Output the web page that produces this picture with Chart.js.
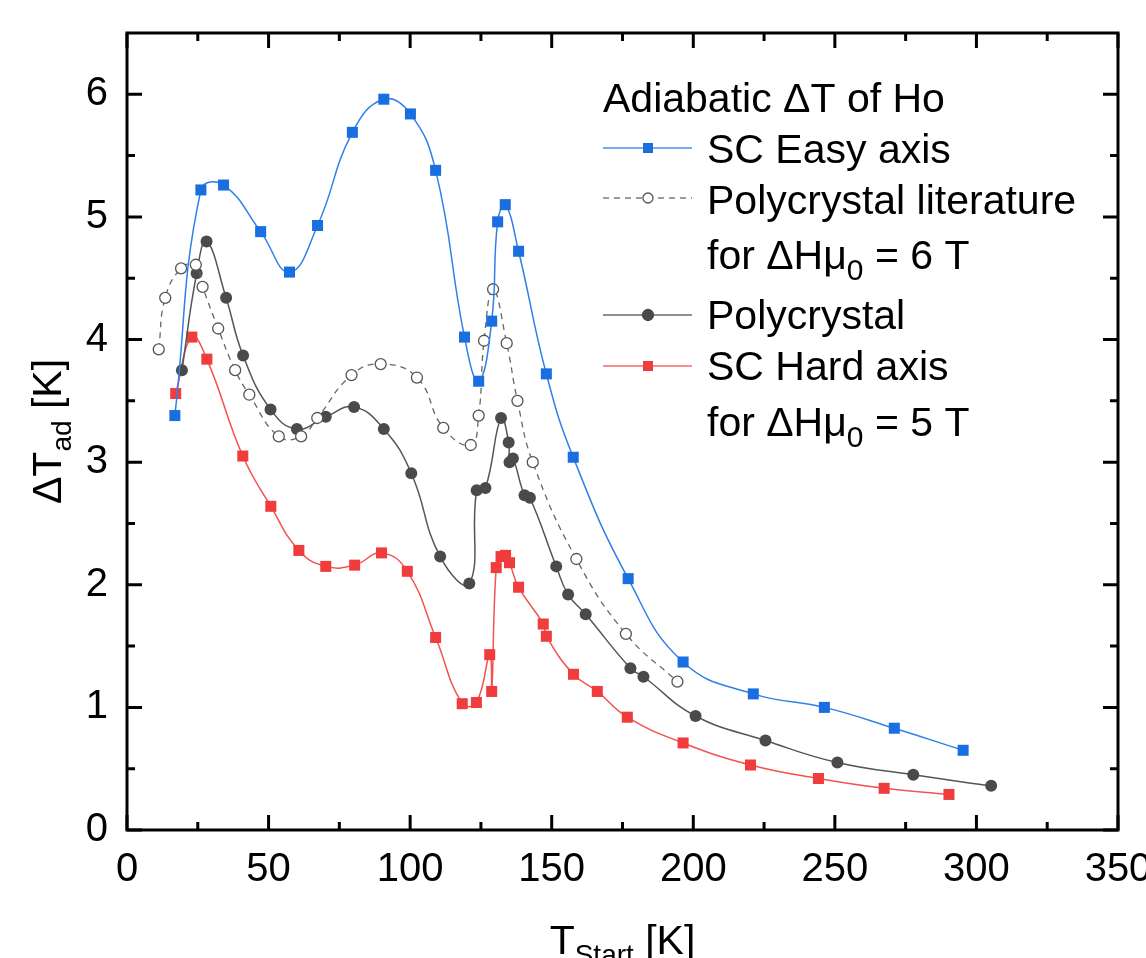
<!DOCTYPE html>
<html>
<head>
<meta charset="utf-8">
<script src="https://cdn.jsdelivr.net/npm/chart.js@4.4.1/dist/chart.umd.min.js"></script>
<style>
  html, body { margin: 0; padding: 0; background: #fff; }
</style>
</head>
<body>
<canvas id="chart" width="1146" height="958"></canvas>
<script>
// values
const tEasy  = [16.9, 26.1, 34.1, 47.2, 57.4, 67.3, 79.6, 90.7, 100.1, 109.0, 119.2, 124.2, 128.8, 130.9, 133.6, 138.3, 148.1, 157.6, 177.0, 196.4, 221.2, 246.3, 271.0, 295.3];
const dtEasy = [3.38, 5.22, 5.26, 4.88, 4.55, 4.93, 5.69, 5.96, 5.84, 5.38, 4.02, 3.66, 4.15, 4.96, 5.10, 4.72, 3.72, 3.04, 2.05, 1.37, 1.11, 1.00, 0.83, 0.65];

const tLit  = [11.2, 13.5, 19.1, 24.3, 26.7, 32.2, 38.2, 43.2, 53.6, 61.5, 67.2, 79.3, 89.6, 102.4, 111.7, 121.4, 124.2, 126.1, 129.3, 134.1, 137.9, 143.3, 158.7, 176.2, 194.4];
const dtLit = [3.92, 4.34, 4.58, 4.61, 4.43, 4.09, 3.75, 3.55, 3.21, 3.21, 3.36, 3.71, 3.80, 3.69, 3.28, 3.14, 3.38, 3.99, 4.41, 3.97, 3.50, 3.00, 2.21, 1.60, 1.21];

const tPoly  = [19.4, 24.6, 28.1, 35.0, 41.0, 50.7, 60.0, 70.2, 80.2, 90.7, 100.4, 110.6, 120.9, 123.5, 126.6, 132.1, 134.8, 135.1, 136.3, 140.4, 142.3, 151.6, 155.8, 162.0, 177.8, 182.4, 200.8, 225.5, 250.9, 277.7, 305.2];
const dtPoly = [3.75, 4.54, 4.80, 4.34, 3.87, 3.43, 3.27, 3.37, 3.45, 3.27, 2.91, 2.23, 2.01, 2.77, 2.79, 3.36, 3.16, 3.00, 3.03, 2.73, 2.71, 2.15, 1.92, 1.76, 1.32, 1.25, 0.93, 0.73, 0.55, 0.45, 0.36];

const tHard  = [17.2, 22.9, 28.2, 40.9, 50.8, 60.7, 70.2, 80.4, 89.9, 99.0, 109.0, 118.4, 123.4, 128.1, 128.8, 130.4, 132.1, 133.7, 135.1, 138.3, 147.0, 148.1, 157.7, 166.1, 176.7, 196.4, 220.2, 244.2, 267.4, 290.3];
const dtHard = [3.56, 4.02, 3.84, 3.05, 2.64, 2.28, 2.15, 2.16, 2.26, 2.11, 1.57, 1.03, 1.04, 1.43, 1.13, 2.14, 2.23, 2.24, 2.18, 1.98, 1.68, 1.58, 1.27, 1.13, 0.92, 0.71, 0.53, 0.42, 0.34, 0.29];

const xTicks = [0, 50, 100, 150, 200, 250, 300, 350];
const xMinor = [25, 75, 125, 175, 225, 275, 325];
const yTicks = [0, 1, 2, 3, 4, 5, 6];
const yMinor = [0.5, 1.5, 2.5, 3.5, 4.5, 5.5];

const FONT = '"Liberation Sans", Arial, sans-serif';
const pts = (xs, ys) => xs.map((x, i) => ({ x: x, y: ys[i] }));

// text with subscripts: segs = [{t, sub}]
function richText(ctx, segs, x, y, size, subSize, subDrop) {
  let w = 0;
  segs.forEach(s => {
    ctx.font = (s.sub ? subSize : size) + 'px ' + FONT;
    s.w = ctx.measureText(s.t).width;
    w += s.w;
  });
  let cx = x;
  if (ctx.textAlign === 'center') cx = x - w / 2;
  const saved = ctx.textAlign;
  ctx.textAlign = 'left';
  segs.forEach(s => {
    ctx.font = (s.sub ? subSize : size) + 'px ' + FONT;
    ctx.fillText(s.t, cx, y + (s.sub ? subDrop : 0));
    cx += s.w;
  });
  ctx.textAlign = saved;
}

const decor = {
  id: 'decor',
  afterDraw(chart) {
    const { ctx, chartArea: a, scales: { x, y } } = chart;
    ctx.save();
    ctx.strokeStyle = '#000';
    ctx.lineWidth = 3;
    ctx.beginPath();
    const tick = (x1, y1, x2, y2) => { ctx.moveTo(x1, y1); ctx.lineTo(x2, y2); };
    xTicks.forEach(v => { const p = x.getPixelForValue(v); tick(p, a.bottom, p, a.bottom - 15); tick(p, a.top, p, a.top + 15); });
    xMinor.forEach(v => { const p = x.getPixelForValue(v); tick(p, a.bottom, p, a.bottom - 8); tick(p, a.top, p, a.top + 8); });
    yTicks.forEach(v => { const p = y.getPixelForValue(v); tick(a.left, p, a.left + 15, p); tick(a.right, p, a.right - 15, p); });
    yMinor.forEach(v => { const p = y.getPixelForValue(v); tick(a.left, p, a.left + 8, p); tick(a.right, p, a.right - 8, p); });
    ctx.stroke();
    ctx.strokeRect(a.left, a.top, a.right - a.left, a.bottom - a.top);

    // axis titles
    ctx.fillStyle = '#000';
    ctx.textBaseline = 'alphabetic';
    ctx.textAlign = 'center';
    richText(ctx, [{ t: 'T' }, { t: 'Start', sub: true }, { t: ' [K]' }], (a.left + a.right) / 2, 954, 41, 28, 10);
    ctx.save();
    ctx.translate(61, (a.top + a.bottom) / 2);
    ctx.rotate(-Math.PI / 2);
    richText(ctx, [{ t: '\u0394T' }, { t: 'ad', sub: true }, { t: ' [K]' }], 0, 0, 41, 28, 10);
    ctx.restore();

    // legend
    ctx.textAlign = 'left';
    ctx.font = '41px ' + FONT;
    ctx.fillText('Adiabatic \u0394T of Ho', 603, 112);
    const rows = [
      { ds: 0, lineY: 148, text: [{ t: 'SC Easy axis' }], base: 163 },
      { ds: 1, lineY: 198, text: [{ t: 'Polycrystal literature' }], base: 214 },
      { ds: -1, text: [{ t: 'for \u0394H\u03bc' }, { t: '0', sub: true }, { t: ' = 6 T' }], base: 269 },
      { ds: 2, lineY: 315, text: [{ t: 'Polycrystal' }], base: 329 },
      { ds: 3, lineY: 366, text: [{ t: 'SC Hard axis' }], base: 380 },
      { ds: -1, text: [{ t: 'for \u0394H\u03bc' }, { t: '0', sub: true }, { t: ' = 5 T' }], base: 436 }
    ];
    rows.forEach(r => {
      if (r.ds >= 0) {
        const d = chart.data.datasets[r.ds];
        ctx.save();
        ctx.globalAlpha = 0.65;
        ctx.strokeStyle = d.borderColor;
        ctx.lineWidth = 2;
        ctx.setLineDash(d.borderDash || []);
        ctx.beginPath(); ctx.moveTo(603, r.lineY); ctx.lineTo(692, r.lineY); ctx.stroke();
        ctx.restore();
        ctx.setLineDash([]);
        ctx.fillStyle = d.pointBackgroundColor;
        ctx.strokeStyle = d.pointBorderColor;
        ctx.lineWidth = d.pointBorderWidth;
        if (d.pointStyle === 'rect') {
          ctx.fillRect(648 - 5, r.lineY - 5, 10, 10);
        } else {
          ctx.beginPath(); ctx.arc(648, r.lineY, d.pointRadius - 0.5, 0, Math.PI * 2); ctx.fill(); ctx.stroke();
        }
      }
      ctx.fillStyle = '#000';
      richText(ctx, r.text, 707, r.base, 41, 30, 11);
    });
    ctx.restore();
  }
};

new Chart(document.getElementById('chart'), {
  type: 'line',
  data: {
    datasets: [
      { label: 'SC Easy axis', data: pts(tEasy, dtEasy), borderColor: '#2f80e8', borderWidth: 1.5, tension: 0.45,
        pointStyle: 'rect', pointRadius: 7.8, pointBackgroundColor: '#1a6fe0', pointBorderColor: '#1a6fe0', pointBorderWidth: 0 },
      { label: 'Polycrystal literature', data: pts(tLit, dtLit), borderColor: '#666666', borderWidth: 1.3, borderDash: [6, 5], tension: 0.45,
        pointStyle: 'circle', pointRadius: 5.5, pointBackgroundColor: '#ffffff', pointBorderColor: '#555555', pointBorderWidth: 1.3 },
      { label: 'Polycrystal', data: pts(tPoly, dtPoly), borderColor: '#555555', borderWidth: 1.5, tension: 0.45,
        pointStyle: 'circle', pointRadius: 6, pointBackgroundColor: '#4a4a4a', pointBorderColor: '#4a4a4a', pointBorderWidth: 0 },
      { label: 'SC Hard axis', data: pts(tHard, dtHard), borderColor: '#f25252', borderWidth: 1.5, tension: 0.45,
        pointStyle: 'rect', pointRadius: 7.8, pointBackgroundColor: '#f03c3c', pointBorderColor: '#f03c3c', pointBorderWidth: 0 }
    ]
  },
  options: {
    responsive: false,
    animation: false,
    events: [],
    layout: { padding: { top: 33, right: 28, left: 0, bottom: 0 } },
    plugins: { legend: { display: false }, tooltip: { enabled: false } },
    scales: {
      x: {
        type: 'linear', min: 0, max: 350,
        grid: { display: false, drawTicks: false },
        border: { display: false },
        afterBuildTicks: s => { s.ticks = xTicks.map(v => ({ value: v })); },
        afterFit: s => { s.height = 128; s.paddingLeft = 0; s.paddingRight = 0; },
        ticks: { color: '#000', font: { family: FONT, size: 40 }, padding: 16, maxRotation: 0, autoSkip: false }
      },
      y: {
        type: 'linear', min: 0, max: 6.5,
        grid: { display: false, drawTicks: false },
        border: { display: false },
        afterBuildTicks: s => { s.ticks = yTicks.map(v => ({ value: v })); },
        afterFit: s => { s.width = 127; s.paddingTop = 0; s.paddingBottom = 0; },
        ticks: { color: '#000', font: { family: FONT, size: 40 }, padding: 19 }
      }
    }
  },
  plugins: [decor]
});
</script>
</body>
</html>
